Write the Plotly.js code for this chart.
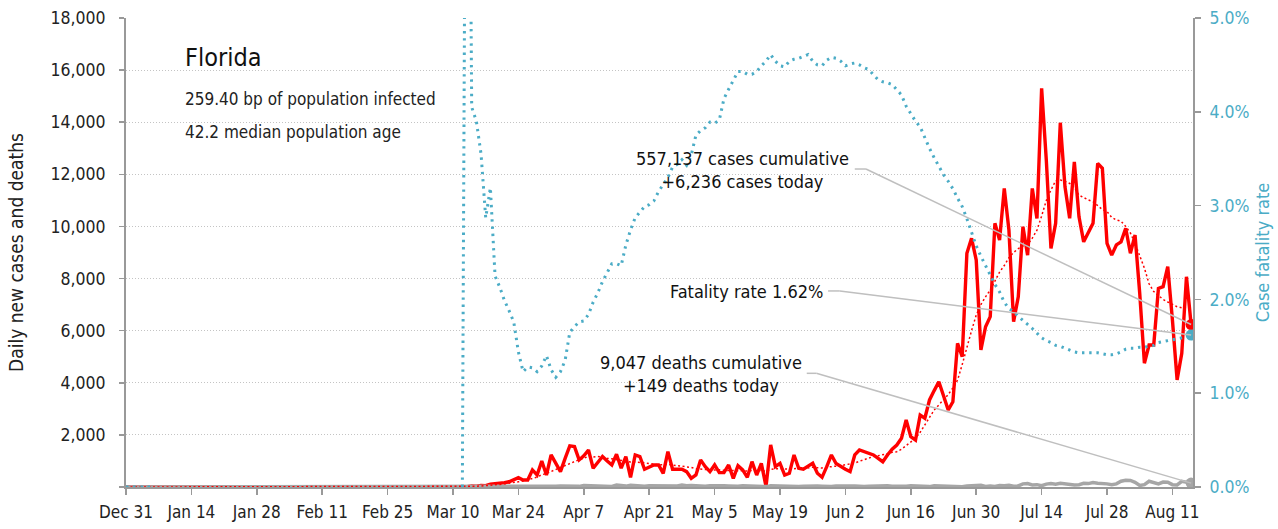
<!DOCTYPE html>
<html><head><meta charset="utf-8">
<script src="https://cdn.plot.ly/plotly-3.0.1.min.js"></script>
<style>html,body{margin:0;padding:0;background:#fff}#chart{width:1278px;height:529px}</style>
</head><body><div id="chart"></div>
<script>
// ---------- DATA (daily, starting 2019-12-31) ----------
const startDate = '2019-12-31';
const rangeEnd = '2020-08-15 09:40';

// Daily new cases
const casesJanFeb = [
  0,0,0,0,0,0,0,0,0,0,
  0,0,0,0,0,0,0,0,0,0,
  0,0,0,0,0,0,0,0,0,0,
  0,0,0,0,0,0,0,0,0,0,
  0,0,0,0,0,0,0,0,0,0,
  0,0,0,0,0,0,0,0,0,0,
  0];
const casesMar = [0,0,2,2,5,5,10,10,15,5,20,25,15,40,30,60,50,110,120,160,165,200,280,360,270,270,654,460,1000,460,1230];
const casesApr = [900,590,1100,1577,1550,1040,1200,1420,720,950,1170,1000,846,1260,720,1170,370,1230,1170,680,780,846,846,525,1360,680,680,680,590,333];
const casesMay = [460,1040,780,590,846,550,550,846,333,820,654,372,974,460,910,20,1615,780,910,460,525,1230,720,680,800,910,525,372,780,1230,900];
const casesJun = [780,680,590,1230,1420,1360,1290,1230,1100,970,1230,1450,1610,1870,2570,1930,1800,2760,2640,3340,3700,4040,3500,2955,3270,5515,5000,8970,9545,8710];
const casesJul = [5260,6150,6540,10120,9480,11460,9860,6345,7300,9990,8900,11460,10310,15300,12550,9160,10120,13980,11520,10310,12480,10370,9410,9800,10120,12420,12230,9350,8900,9290,9410];
const casesAug = [9930,8970,9670,7430,4750,5450,5450,7620,7690,8460,6410,4110,5130,8070,6236];

// 7-day average of new cases (dotted red)
const avgJanFeb = casesJanFeb.slice();
const avgMar = [0,0,1,1,2,3,4,5,7,8,10,13,15,20,28,40,50,60,80,100,120,140,170,200,230,270,330,380,470,520,600];
const avgApr = [680,760,820,920,1000,1050,1100,1180,1150,1170,1150,1100,1080,1050,1010,980,960,960,950,930,900,880,850,860,870,840,820,800,790,750];
const avgMay = [700,680,680,660,650,660,640,640,630,640,620,610,630,620,640,600,680,700,690,700,690,700,720,700,740,760,740,730,760,790,800];
const avgJun = [820,850,880,920,990,1050,1110,1170,1200,1230,1280,1330,1355,1450,1580,1720,1870,2100,2400,2700,2955,3150,3350,3550,3800,4100,4700,5385,6000,6600];
const avgJul = [7000,7300,7560,7900,8250,8500,8800,9000,9150,9250,9300,9550,9860,10400,11000,11400,11750,11780,11730,11650,11500,11200,11100,11020,10950,10800,10650,10570,10350,10250,10200];
const avgAug = [10000,9750,9350,8900,8400,7800,7500,7350,7200,7100,7000,6920,6880,6860,6850];

// Daily new deaths
const deathsJanFeb = casesJanFeb.slice();
const deathsMar = [0,0,0,0,0,0,2,0,0,0,0,0,1,1,1,1,2,3,3,2,4,5,5,9,8,11,12,14,18,20,16];
const deathsApr = [28,35,29,39,15,25,59,48,42,55,46,30,22,72,55,34,62,40,25,25,48,45,60,45,40,20,40,75,50,60];
const deathsMay = [40,30,25,45,55,60,45,40,20,25,50,48,40,35,20,15,50,40,45,30,25,30,15,30,40,45,40,30,20,15,35];
const deathsJun = [45,35,40,35,20,15,30,40,35,40,45,30,20,40,30,45,40,45,20,15,45,40,40,30,25,10,10,40,50,45];
const deathsJul = [65,20,40,20,60,50,70,30,40,120,130,80,90,50,110,130,110,140,120,90,80,90,140,130,170,140,140,120,90,120,220];
const deathsAug = [260,250,180,60,90,220,180,120,190,180,90,80,220,180,149];

// Case fatality rate (%), right axis
const cfrJanFeb = [
  0,0,0,0,0,0,0,null,null,null,
  null,null,null,null,null,null,null,null,null,null,
  null,null,null,null,null,null,null,null,null,null,
  null,null,null,null,null,null,null,null,null,null,
  null,null,null,null,null,null,null,null,null,null,
  null,null,null,null,null,null,null,null,null,null,
  null];
const cfrMar = [
  null,null,null,null,null,null,null,null,null,null,
  null,0,11,4.05,3.9,3.55,2.87,3.19,2.25,2.13,
  1.99,1.88,1.76,1.44,1.23,1.28,1.27,1.23,1.29,1.40,
  1.25];
const cfrApr = [1.17,1.23,1.35,1.65,1.71,1.76,1.77,1.84,1.97,2.07,2.19,2.28,2.38,2.38,2.36,2.58,2.74,2.87,2.93,2.99,3.01,3.05,3.15,3.22,3.30,3.41,3.44,3.49,3.43,3.54];
const cfrMay = [3.75,3.80,3.83,3.89,3.88,3.91,4.14,4.24,4.33,4.43,4.43,4.40,4.40,4.43,4.49,4.54,4.61,4.54,4.49,4.48,4.54,4.56,4.57,4.59,4.61,4.54,4.50,4.49,4.55,4.58,4.57];
const cfrJun = [4.54,4.49,4.51,4.52,4.50,4.47,4.45,4.39,4.34,4.32,4.31,4.29,4.23,4.18,4.06,3.98,3.90,3.84,3.72,3.61,3.51,3.42,3.33,3.26,3.18,3.08,2.99,2.86,2.72,2.57];
const cfrJul = [2.46,2.36,2.26,2.16,2.08,1.97,1.90,1.87,1.82,1.78,1.74,1.69,1.64,1.59,1.56,1.54,1.51,1.50,1.48,1.46,1.44,1.43,1.43,1.43,1.43,1.43,1.42,1.41,1.41,1.42,1.44];
const cfrAug = [1.47,1.48,1.48,1.49,1.49,1.50,1.51,1.54,1.55,1.56,1.57,1.58,1.59,1.60,1.62];

// Tick labels
const xTickDates = ['2019-12-31','2020-01-14','2020-01-28','2020-02-11','2020-02-25','2020-03-10','2020-03-24','2020-04-07','2020-04-21','2020-05-05','2020-05-19','2020-06-02','2020-06-16','2020-06-30','2020-07-14','2020-07-28','2020-08-11'];
const xTickLabels = ['Dec 31','Jan 14','Jan 28','Feb 11','Feb 25','Mar 10','Mar 24','Apr 7','Apr 21','May 5','May 19','Jun 2','Jun 16','Jun 30','Jul 14','Jul 28','Aug 11'];
const yTickVals = [0,2000,4000,6000,8000,10000,12000,14000,16000,18000];
const yTickLabels = ['','2,000','4,000','6,000','8,000','10,000','12,000','14,000','16,000','18,000'];
const y2TickVals = [0,1,2,3,4,5];
const y2TickLabels = ['0.0%','1.0%','2.0%','3.0%','4.0%','5.0%'];

// Text
const stateName = 'Florida';
const infoLine1 = '259.40 bp of population infected';
const infoLine2 = '42.2 median population age';
const casesLabel = '557,137 cases cumulative<br>+6,236 cases today';
const cfrLabel = 'Fatality rate 1.62%';
const deathsLabel = '9,047 deaths cumulative<br>+149 deaths today';

// ---------- BUILD ----------
const cases = [].concat(casesJanFeb, casesMar, casesApr, casesMay, casesJun, casesJul, casesAug);
const avg = [].concat(avgJanFeb, avgMar, avgApr, avgMay, avgJun, avgJul, avgAug);
const deaths = [].concat(deathsJanFeb, deathsMar, deathsApr, deathsMay, deathsJun, deathsJul, deathsAug);
const cfr = [].concat(cfrJanFeb, cfrMar, cfrApr, cfrMay, cfrJun, cfrJul, cfrAug);

const dates = [];
for (let i = 0; i < cases.length; i++) {
  dates.push(new Date(Date.UTC(2019, 11, 31 + i)).toISOString().slice(0, 10));
}
const last = cases.length - 1;

const FONT = '"DejaVu Sans Condensed", "Liberation Sans Narrow", "Arial Narrow", sans-serif';
const RED = '#ff0000', BLUE = '#4bacc6', GRAY = '#a6a6a6', LINE = '#bfbfbf';

const traces = [
  {x: dates, y: cases, type: 'scatter', mode: 'lines', line: {color: RED, width: 3.4}, hoverinfo: 'skip'},
  {x: dates, y: deaths, type: 'scatter', mode: 'lines', line: {color: GRAY, width: 3.5}, hoverinfo: 'skip'},
  {x: dates, y: avg, type: 'scatter', mode: 'lines', line: {color: RED, width: 1.5, dash: '2px,2.5px'}, hoverinfo: 'skip'},
  {x: [dates[last]], y: [cases[last]], type: 'scatter', mode: 'markers', marker: {color: RED, size: 11}, hoverinfo: 'skip'},
  {x: [dates[last]], y: [deaths[last]], type: 'scatter', mode: 'markers', marker: {color: GRAY, size: 11}, hoverinfo: 'skip'},
  {x: dates.slice(0, cfr.length), y: cfr, yaxis: 'y2', type: 'scatter', mode: 'lines', line: {color: BLUE, width: 3, dash: '2.4px,4.8px'}, hoverinfo: 'skip'},
  {x: [dates[cfr.length - 1]], y: [cfr[cfr.length - 1]], yaxis: 'y2', type: 'scatter', mode: 'markers', marker: {color: BLUE, size: 11}, hoverinfo: 'skip'}
];

// helpers: convert paper position of label elbows into axis units
const t0 = new Date(startDate + 'T00:00:00Z').getTime();
const t1 = new Date(rangeEnd.replace(' ', 'T') + ':00Z').getTime();
function px2date(fx) { return new Date(t0 + fx * (t1 - t0)).toISOString().replace('T', ' ').slice(0, 19); }

function connector(fx0, fx1, fy, yref, ymax, xTarget, yTarget) {
  const yv = fy * ymax;
  return [
    {type: 'line', xref: 'paper', yref: 'paper', x0: fx0, x1: fx1, y0: fy, y1: fy, line: {color: LINE, width: 1.5}},
    {type: 'line', xref: 'x', yref: yref, x0: px2date(fx1), y0: yv, x1: xTarget, y1: yTarget, line: {color: LINE, width: 1.5}}
  ];
}

const shapes = [].concat(
  connector(0.683, 0.6935, 0.678, 'y', 18000, dates[last], cases[last]),
  connector(0.658, 0.669, 0.418, 'y2', 5, dates[cfr.length - 1], cfr[cfr.length - 1]),
  connector(0.638, 0.647, 0.2424, 'y', 18000, dates[last], deaths[last])
);

const annotations = [
  {xref: 'paper', yref: 'paper', x: 0.0534, y: 0.915, xanchor: 'left', yanchor: 'middle', text: stateName, showarrow: false, font: {size: 25, color: '#111'}},
  {xref: 'paper', yref: 'paper', x: 0.0534, y: 0.827, xanchor: 'left', yanchor: 'middle', text: infoLine1, showarrow: false, font: {size: 17, color: '#222'}},
  {xref: 'paper', yref: 'paper', x: 0.0534, y: 0.757, xanchor: 'left', yanchor: 'middle', text: infoLine2, showarrow: false, font: {size: 17, color: '#222'}},
  {xref: 'paper', yref: 'paper', x: 0.578, y: 0.676, xanchor: 'center', yanchor: 'middle', align: 'center', text: casesLabel, showarrow: false, font: {size: 18, color: '#111'}},
  {xref: 'paper', yref: 'paper', x: 0.582, y: 0.416, xanchor: 'center', yanchor: 'middle', align: 'center', text: cfrLabel, showarrow: false, font: {size: 18, color: '#111'}},
  {xref: 'paper', yref: 'paper', x: 0.539, y: 0.240, xanchor: 'center', yanchor: 'middle', align: 'center', text: deathsLabel, showarrow: false, font: {size: 18, color: '#111'}}
];

const layout = {
  width: 1278, height: 529,
  margin: {l: 126, r: 85, t: 18, b: 42, pad: 0},
  paper_bgcolor: '#fff', plot_bgcolor: '#fff',
  showlegend: false,
  font: {family: FONT, size: 17, color: '#222'},
  xaxis: {
    type: 'date', range: [startDate, rangeEnd],
    tickmode: 'array', tickvals: xTickDates, ticktext: xTickLabels,
    ticks: 'outside', ticklen: 6, tickwidth: 1.5, tickcolor: '#999',
    showline: true, linecolor: '#999', linewidth: 1.5,
    showgrid: false, zeroline: false, ticklabelstandoff: 3,
    tickfont: {size: 17, color: '#222'}
  },
  yaxis: {
    range: [0, 18000], tickmode: 'array', tickvals: yTickVals, ticktext: yTickLabels,
    ticks: 'outside', ticklen: 5, tickwidth: 1.5, tickcolor: '#999',
    showline: true, linecolor: '#999', linewidth: 2,
    showgrid: true, gridcolor: '#c4c4c4', gridwidth: 1, griddash: '1px,2px',
    zeroline: false, ticklabelstandoff: 10,
    tickfont: {size: 17.5, color: '#222'},
    title: {text: 'Daily new cases and deaths', font: {size: 19, color: '#222'}, standoff: 22}
  },
  yaxis2: {
    overlaying: 'y', side: 'right', range: [0, 5],
    tickmode: 'array', tickvals: y2TickVals, ticktext: y2TickLabels,
    ticks: 'outside', ticklen: 6, tickwidth: 1.5, tickcolor: '#999',
    showline: true, linecolor: '#999', linewidth: 2,
    showgrid: false, zeroline: false, ticklabelstandoff: 5,
    tickfont: {size: 17.5, color: BLUE},
    title: {text: 'Case fatality rate', font: {size: 18, color: BLUE}, standoff: 8}
  },
  shapes: shapes,
  annotations: annotations
};

Plotly.newPlot('chart', traces, layout, {staticPlot: true, displayModeBar: false});
</script>
</body></html>
